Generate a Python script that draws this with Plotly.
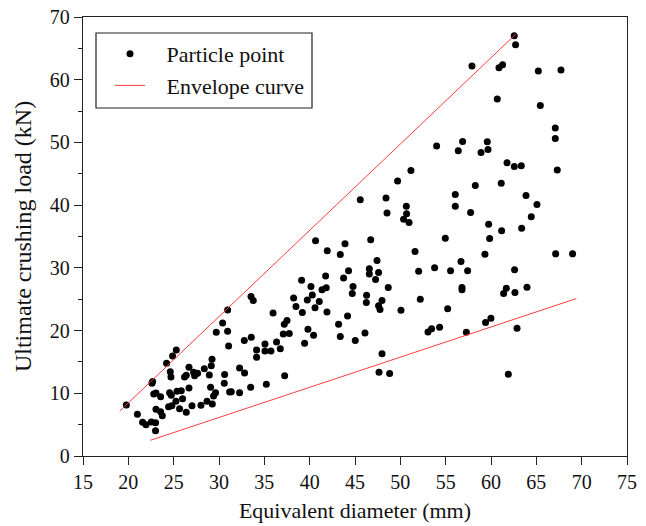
import plotly.graph_objects as go

# Particle points (equivalent diameter mm, ultimate crushing load kN)
diameter = [
    19.78, 21.0, 21.57, 21.95, 22.53, 23.0, 23.0, 22.68, 22.6, 22.8, 23.05, 23.56, 23.05, 23.56, 23.75,
    24.22, 24.88, 25.29, 24.63, 24.7, 24.55, 24.74, 24.44, 24.8, 25.25, 25.37, 25.84, 25.65, 25.98, 26.39,
    26.69, 26.69, 26.2, 26.39, 27.2, 27.31, 27.64, 27.02, 28.01, 28.38, 28.93, 29.15, 29.23, 29.07, 28.68,
    29.26, 29.4, 29.62, 29.7, 30.4, 30.95, 30.95, 31.06, 30.62, 30.58, 31.17, 31.36, 32.27, 32.27, 32.82,
    32.79, 33.56, 33.49, 33.53, 33.78, 34.15, 34.15, 35.07, 35.07, 35.73, 36.35, 36.76, 35.96, 35.22,
    37.09, 37.75, 37.2, 37.5, 38.23, 38.49, 39.19, 39.11, 39.44, 39.81, 40.43, 39.74, 40.14, 40.29, 40.59,
    41.06, 41.36, 41.83, 41.76, 41.91, 41.94, 40.65, 43.38, 43.9, 43.19, 43.38, 43.74, 44.29, 44.18, 44.78,
    44.7, 45.03, 45.58, 46.1, 46.28, 46.25, 46.73, 46.58, 46.58, 47.43, 47.6, 47.27, 47.98, 47.6, 47.76,
    48.67, 48.42, 48.53, 49.7, 51.17, 50.66, 50.69, 50.36, 50.96, 51.62, 52.02, 52.2, 50.07,
    62.56, 62.71, 57.9, 60.88, 61.28, 65.22, 67.72, 60.69, 65.44, 67.09, 67.09, 67.31, 54.0, 56.87, 56.39,
    59.59, 59.67, 58.9, 61.77, 62.57, 63.34, 58.27, 61.13, 56.06, 56.06, 57.75, 63.86, 65.07, 64.44,
    59.74, 59.85, 61.17, 63.38, 54.96, 53.78, 55.54, 56.69, 57.42, 59.33, 62.6, 67.13, 69.0, 56.8, 56.8,
    61.39, 61.69, 62.64, 63.97, 55.22, 53.05, 53.45, 54.33, 57.28, 59.4, 59.99, 62.87, 61.91,
    37.24, 47.98, 47.65, 48.82,
]
load = [
    8.14, 6.65, 5.37, 5.0, 5.43, 5.32, 4.04, 11.86, 11.6, 9.9, 10.05, 9.46, 7.45, 7.07, 6.43,
    14.79, 15.96, 16.9, 13.45, 12.6, 10.1, 9.69, 7.87, 8.03, 8.72, 10.32, 10.42, 7.55, 9.14, 6.97,
    10.85, 14.15, 12.6, 12.88, 13.36, 12.81, 13.2, 8.03, 8.09, 13.93, 12.92, 14.41, 15.43, 10.96, 8.72,
    8.3, 9.57, 10.1, 19.74, 21.22, 23.3, 19.9, 17.55, 12.98, 11.6, 10.21, 10.26, 10.1, 14.04, 13.24,
    18.4, 18.94, 10.96, 25.42, 24.78, 16.91, 15.75, 17.87, 16.75, 16.75, 18.19, 17.12, 22.82, 11.44,
    19.47, 19.52, 21.0, 21.6, 25.2, 23.83, 22.87, 28.03, 17.98, 20.21, 19.26, 24.89, 27.02, 25.69, 23.62,
    24.63, 26.49, 26.81, 28.72, 22.98, 32.71, 34.31, 32.12, 33.83, 21.01, 19.04, 28.4, 29.52, 22.34, 27.02,
    25.9, 18.4, 40.85, 19.63, 25.64, 24.47, 34.47, 29.84, 29.04, 31.16, 29.25, 28.13, 24.78, 23.94, 23.35,
    26.86, 41.12, 38.73, 43.83, 45.52, 39.84, 38.62, 37.77, 37.23, 32.6, 29.47, 25.0, 23.25,
    67.02, 65.58, 62.18, 61.9, 62.39, 61.38, 61.54, 56.92, 55.9, 52.29, 50.64, 45.59, 49.42, 50.16, 48.67,
    50.1, 48.88, 48.4, 46.75, 46.17, 46.28, 43.14, 43.51, 41.7, 39.84, 38.82, 41.54, 40.1, 38.14,
    36.96, 34.67, 35.9, 36.33, 34.73, 30.0, 29.52, 31.0, 29.52, 32.18, 29.68, 32.23, 32.23, 26.86, 26.49,
    25.9, 26.76, 26.06, 26.92, 23.46, 19.79, 20.31, 20.53, 19.74, 21.27, 21.97, 20.38, 13.04,
    12.81, 16.32, 13.36, 13.14,
]

# Envelope curves (end points)
upper_x = [19.04, 62.79]
upper_y = [7.15, 67.34]
lower_x = [22.43, 69.41]
lower_y = [2.5, 25.1]

x_ticks = list(range(15, 80, 5))
y_ticks = list(range(0, 80, 10))

FONT = "Times New Roman, Liberation Serif, serif"
NB = "\u00a0"

fig = go.Figure()
fig.add_trace(go.Scatter(
    x=diameter, y=load, mode="markers", name=NB * 3 + "Particle point",
    marker=dict(color="black", size=7), legendgroup="a",
))
fig.add_trace(go.Scatter(
    x=upper_x, y=upper_y, mode="lines", name=NB * 3 + "Envelope curve",
    line=dict(color="#ff3b3b", width=1), legendgroup="b",
))
fig.add_trace(go.Scatter(
    x=lower_x, y=lower_y, mode="lines", name="Envelope curve lower",
    line=dict(color="#ff3b3b", width=1), showlegend=False, legendgroup="b",
))

axis_common = dict(
    showline=True, linecolor="#222", linewidth=1.3, mirror=True,
    showgrid=False, zeroline=False, ticks="outside", ticklen=8, tickwidth=1.3,
    tickcolor="#222", tickfont=dict(family=FONT, size=20, color="#111"),
    automargin=False,
)

fig.update_layout(
    width=646, height=526,
    margin=dict(l=83, r=19, t=17, b=70),
    paper_bgcolor="white", plot_bgcolor="white",
    font=dict(family=FONT, color="#111"),
    showlegend=True,
    legend=dict(
        x=(110 - 83) / 544, y=(456 - 33) / 439, xanchor="left", yanchor="top",
        bgcolor="rgba(0,0,0,0)", borderwidth=0,
        font=dict(family=FONT, size=22, color="#111"),
        tracegroupgap=0, traceorder="grouped",
    ),
    shapes=[dict(
        type="rect", xref="paper", yref="paper",
        x0=(96 - 83) / 544, x1=(312 - 83) / 544,
        y0=(456 - 108) / 439, y1=(456 - 33) / 439,
        line=dict(color="#222", width=1.2), fillcolor="rgba(0,0,0,0)",
    )],
)
fig.update_xaxes(
    range=[15, 75], tickvals=x_ticks, ticklabelstandoff=0,
    title=dict(text="Equivalent diameter (mm)", font=dict(family=FONT, size=22, color="#111"), standoff=10),
    **axis_common,
)
fig.update_yaxes(
    range=[0, 70], tickvals=y_ticks,
    minor=dict(ticks="outside", ticklen=4, tickwidth=1.3, tickcolor="#222", dtick=5, tick0=0, showgrid=False),
    title=dict(text="Ultimate crushing load (kN)", font=dict(family=FONT, size=24, color="#111"), standoff=11),
    **axis_common,
)

fig.write_html("out.html")
